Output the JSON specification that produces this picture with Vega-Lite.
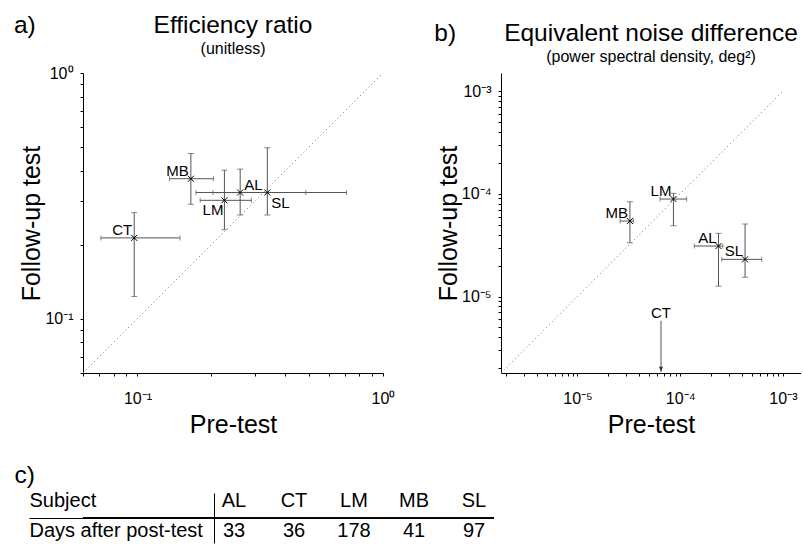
{
  "$schema": "https://vega.github.io/schema/vega-lite/v6.json",
  "autosize": {"type": "pad"},
  "padding": {"left": 13, "top": 12, "right": 0, "bottom": 0},
  "background": "white",
  "config": {
    "font": "Liberation Sans",
    "view": {"stroke": null},
    "axis": {"grid": false, "domainColor": "black", "domainWidth": 1, "tickColor": "black", "tickSize": 3, "tickWidth": 1, "labelColor": "black", "labelFontSize": 16, "labelFlush": false, "labelOverlap": false, "titleColor": "black", "titleFontSize": 25, "titleFontWeight": "normal"},
    "title": {"fontSize": 24.5, "fontWeight": "normal", "color": "black", "subtitleFontSize": 16, "subtitleColor": "black", "subtitlePadding": 3, "offset": 7}
  },
  "datasets": {
    "eff": [
      {"subject": "AL", "pre": 0.262, "pre_lo": 0.173, "pre_hi": 0.485, "post": 0.326, "post_lo": 0.264, "post_hi": 0.406},
      {"subject": "CT", "pre": 0.097, "pre_lo": 0.071, "pre_hi": 0.149, "post": 0.213, "post_lo": 0.123, "post_hi": 0.270},
      {"subject": "LM", "pre": 0.226, "pre_lo": 0.180, "pre_hi": 0.291, "post": 0.303, "post_lo": 0.230, "post_hi": 0.402},
      {"subject": "MB", "pre": 0.165, "pre_lo": 0.135, "pre_hi": 0.204, "post": 0.371, "post_lo": 0.292, "post_hi": 0.470},
      {"subject": "SL", "pre": 0.338, "pre_lo": 0.203, "pre_hi": 0.711, "post": 0.326, "post_lo": 0.264, "post_hi": 0.496}
    ],
    "end": [
      {"subject": "AL", "pre": 2.36e-4, "pre_lo": 1.37e-4, "pre_hi": 2.6e-4, "post": 3.1e-5, "post_lo": 1.26e-5, "post_hi": 4.12e-5},
      {"subject": "CT", "pre": 6.5e-5, "pre_lo": null, "pre_hi": null, "post": null, "post_lo": null, "post_hi": 5.8e-6},
      {"subject": "LM", "pre": 8.59e-5, "pre_lo": 6.36e-5, "pre_hi": 1.156e-4, "post": 8.89e-5, "post_lo": 4.89e-5, "post_hi": 1.01e-4},
      {"subject": "MB", "pre": 3.24e-5, "pre_lo": 2.6e-5, "pre_hi": 3.5e-5, "post": 5.43e-5, "post_lo": 3.34e-5, "post_hi": 8.38e-5},
      {"subject": "SL", "pre": 4.28e-4, "pre_lo": 2.54e-4, "pre_hi": 6.21e-4, "post": 2.30e-5, "post_lo": 1.54e-5, "post_hi": 5.08e-5}
    ],
    "diagA": [{"v": 0.06}, {"v": 1}],
    "diagB": [{"v": 1.8e-6}, {"v": 1e-3}],
    "days": [
      {"subject": "AL", "days": 33},
      {"subject": "CT", "days": 36},
      {"subject": "LM", "days": 178},
      {"subject": "MB", "days": 41},
      {"subject": "SL", "days": 97}
    ]
  },
  "spacing": 25,
  "vconcat": [
    {
      "spacing": 39,
      "hconcat": [
        {
          "title": {"text": "a)", "anchor": "start", "frame": "bounds", "dx": -6, "dy": 33},
          "vconcat": [
            {
              "title": {"text": "Efficiency ratio", "subtitle": "(unitless)"},
              "width": 300,
              "height": 300,
              "layer": [
                {
                  "data": {"name": "diagA"},
                  "mark": {"type": "line", "strokeDash": [1, 3], "color": "#777", "strokeWidth": 1},
                  "encoding": {
                    "x": {"field": "v", "type": "quantitative", "scale": {"type": "log", "domain": [0.06, 1], "nice": false},
                      "axis": {"title": "Pre-test", "values": [0.06, 0.07, 0.08, 0.09, 0.1, 0.2, 0.3, 0.4, 0.5, 0.6, 0.7, 0.8, 0.9, 1], "labelExpr": "datum.value == 1 ? '10⁰' : datum.value == 0.1 ? '10⁻¹' : ''", "labelPadding": 14, "titlePadding": 6}},
                    "y": {"field": "v", "type": "quantitative", "scale": {"type": "log", "domain": [0.06, 1], "nice": false},
                      "axis": {"title": "Follow-up test", "values": [0.06, 0.07, 0.08, 0.09, 0.1, 0.2, 0.3, 0.4, 0.5, 0.6, 0.7, 0.8, 0.9, 1], "labelExpr": "datum.value == 1 ? '10⁰' : datum.value == 0.1 ? '10⁻¹' : ''", "labelPadding": 7, "titlePadding": 0}}
                  }
                },
                {
                  "data": {"name": "eff"},
                  "mark": {"type": "rule", "color": "#555", "strokeWidth": 1},
                  "encoding": {
                    "x": {"field": "pre_lo", "type": "quantitative", "scale": {"type": "log", "domain": [0.06, 1], "nice": false}},
                    "x2": {"field": "pre_hi"},
                    "y": {"field": "post", "type": "quantitative", "scale": {"type": "log", "domain": [0.06, 1], "nice": false}}
                  }
                },
                {
                  "data": {"name": "eff"},
                  "mark": {"type": "rule", "color": "#555", "strokeWidth": 1},
                  "encoding": {
                    "x": {"field": "pre", "type": "quantitative", "scale": {"type": "log", "domain": [0.06, 1], "nice": false}},
                    "y": {"field": "post_lo", "type": "quantitative", "scale": {"type": "log", "domain": [0.06, 1], "nice": false}},
                    "y2": {"field": "post_hi"}
                  }
                },
                {
                  "data": {"name": "eff"},
                  "transform": [{"fold": ["post_lo", "post_hi"], "as": ["end", "yv"]}],
                  "mark": {"type": "tick", "orient": "horizontal", "size": 6, "thickness": 1, "color": "#555"},
                  "encoding": {
                    "x": {"field": "pre", "type": "quantitative", "scale": {"type": "log", "domain": [0.06, 1], "nice": false}},
                    "y": {"field": "yv", "type": "quantitative", "scale": {"type": "log", "domain": [0.06, 1], "nice": false}}
                  }
                },
                {
                  "data": {"name": "eff"},
                  "transform": [{"fold": ["pre_lo", "pre_hi"], "as": ["end", "xv"]}],
                  "mark": {"type": "tick", "orient": "vertical", "size": 5, "thickness": 1, "color": "#555"},
                  "encoding": {
                    "x": {"field": "xv", "type": "quantitative", "scale": {"type": "log", "domain": [0.06, 1], "nice": false}},
                    "y": {"field": "post", "type": "quantitative", "scale": {"type": "log", "domain": [0.06, 1], "nice": false}}
                  }
                },
                {
                  "data": {"name": "eff"},
                  "mark": {"type": "point", "shape": "M-1,-1L1,1M-1,1L1,-1", "size": 36, "filled": false, "stroke": "black", "strokeWidth": 1, "opacity": 1},
                  "encoding": {
                    "x": {"field": "pre", "type": "quantitative", "scale": {"type": "log", "domain": [0.06, 1], "nice": false}},
                    "y": {"field": "post", "type": "quantitative", "scale": {"type": "log", "domain": [0.06, 1], "nice": false}}
                  }
                },
                {
                  "data": {"name": "eff"},
                  "transform": [{"filter": {"field": "subject", "oneOf": ["CT", "MB"]}}],
                  "mark": {"type": "text", "align": "right", "baseline": "alphabetic", "dx": -2, "dy": -3, "fontSize": 15, "color": "black"},
                  "encoding": {
                    "x": {"field": "pre", "type": "quantitative", "scale": {"type": "log", "domain": [0.06, 1], "nice": false}},
                    "y": {"field": "post", "type": "quantitative", "scale": {"type": "log", "domain": [0.06, 1], "nice": false}},
                    "text": {"field": "subject"}
                  }
                },
                {
                  "data": {"name": "eff"},
                  "transform": [{"filter": {"field": "subject", "equal": "LM"}}],
                  "mark": {"type": "text", "align": "right", "baseline": "top", "dx": -1, "dy": 3, "fontSize": 15, "color": "black"},
                  "encoding": {
                    "x": {"field": "pre", "type": "quantitative", "scale": {"type": "log", "domain": [0.06, 1], "nice": false}},
                    "y": {"field": "post", "type": "quantitative", "scale": {"type": "log", "domain": [0.06, 1], "nice": false}},
                    "text": {"field": "subject"}
                  }
                },
                {
                  "data": {"name": "eff"},
                  "transform": [{"filter": {"field": "subject", "equal": "AL"}}],
                  "mark": {"type": "text", "align": "left", "baseline": "alphabetic", "dx": 4, "dy": -3, "fontSize": 15, "color": "black"},
                  "encoding": {
                    "x": {"field": "pre", "type": "quantitative", "scale": {"type": "log", "domain": [0.06, 1], "nice": false}},
                    "y": {"field": "post", "type": "quantitative", "scale": {"type": "log", "domain": [0.06, 1], "nice": false}},
                    "text": {"field": "subject"}
                  }
                },
                {
                  "data": {"name": "eff"},
                  "transform": [{"filter": {"field": "subject", "equal": "SL"}}],
                  "mark": {"type": "text", "align": "left", "baseline": "top", "dx": 4, "dy": 3.5, "fontSize": 15, "color": "black"},
                  "encoding": {
                    "x": {"field": "pre", "type": "quantitative", "scale": {"type": "log", "domain": [0.06, 1], "nice": false}},
                    "y": {"field": "post", "type": "quantitative", "scale": {"type": "log", "domain": [0.06, 1], "nice": false}},
                    "text": {"field": "subject"}
                  }
                }
              ]
            }
          ]
        },
        {
          "title": {"text": "b)", "anchor": "start", "frame": "bounds", "dx": -2, "dy": 33},
          "vconcat": [
            {
              "title": {"text": "Equivalent noise difference", "subtitle": "(power spectral density, deg²)"},
              "width": 300,
              "height": 300,
              "layer": [
                {
                  "data": {"name": "diagB"},
                  "mark": {"type": "line", "strokeDash": [1, 3], "color": "#777", "strokeWidth": 1},
                  "encoding": {
                    "x": {"field": "v", "type": "quantitative", "scale": {"type": "log", "domain": [1.8e-6, 1.5e-3], "nice": false},
                      "axis": {"title": "Pre-test", "values": [2e-6, 3e-6, 4e-6, 5e-6, 6e-6, 7e-6, 8e-6, 9e-6, 1e-5, 2e-5, 3e-5, 4e-5, 5e-5, 6e-5, 7e-5, 8e-5, 9e-5, 1e-4, 2e-4, 3e-4, 4e-4, 5e-4, 6e-4, 7e-4, 8e-4, 9e-4, 1e-3], "labelExpr": "datum.value == 1e-5 ? '10⁻⁵' : datum.value == 1e-4 ? '10⁻⁴' : datum.value == 1e-3 ? '10⁻³' : ''", "labelPadding": 14, "titlePadding": 6}},
                    "y": {"field": "v", "type": "quantitative", "scale": {"type": "log", "domain": [1.8e-6, 1.5e-3], "nice": false},
                      "axis": {"title": "Follow-up test", "values": [2e-6, 3e-6, 4e-6, 5e-6, 6e-6, 7e-6, 8e-6, 9e-6, 1e-5, 2e-5, 3e-5, 4e-5, 5e-5, 6e-5, 7e-5, 8e-5, 9e-5, 1e-4, 2e-4, 3e-4, 4e-4, 5e-4, 6e-4, 7e-4, 8e-4, 9e-4, 1e-3], "labelExpr": "datum.value == 1e-5 ? '10⁻⁵' : datum.value == 1e-4 ? '10⁻⁴' : datum.value == 1e-3 ? '10⁻³' : ''", "labelPadding": 7, "titlePadding": 0}}
                  }
                },
                {
                  "data": {"name": "end"},
                  "transform": [{"filter": "isValid(datum.pre_lo)"}],
                  "mark": {"type": "rule", "color": "#555", "strokeWidth": 1},
                  "encoding": {
                    "x": {"field": "pre_lo", "type": "quantitative", "scale": {"type": "log", "domain": [1.8e-6, 1.5e-3], "nice": false}},
                    "x2": {"field": "pre_hi"},
                    "y": {"field": "post", "type": "quantitative", "scale": {"type": "log", "domain": [1.8e-6, 1.5e-3], "nice": false}}
                  }
                },
                {
                  "data": {"name": "end"},
                  "transform": [{"filter": "isValid(datum.post_lo)"}],
                  "mark": {"type": "rule", "color": "#555", "strokeWidth": 1},
                  "encoding": {
                    "x": {"field": "pre", "type": "quantitative", "scale": {"type": "log", "domain": [1.8e-6, 1.5e-3], "nice": false}},
                    "y": {"field": "post_lo", "type": "quantitative", "scale": {"type": "log", "domain": [1.8e-6, 1.5e-3], "nice": false}},
                    "y2": {"field": "post_hi"}
                  }
                },
                {
                  "data": {"name": "end"},
                  "transform": [{"filter": "isValid(datum.post_lo)"}, {"fold": ["post_lo", "post_hi"], "as": ["end", "yv"]}],
                  "mark": {"type": "tick", "orient": "horizontal", "size": 6, "thickness": 1, "color": "#555"},
                  "encoding": {
                    "x": {"field": "pre", "type": "quantitative", "scale": {"type": "log", "domain": [1.8e-6, 1.5e-3], "nice": false}},
                    "y": {"field": "yv", "type": "quantitative", "scale": {"type": "log", "domain": [1.8e-6, 1.5e-3], "nice": false}}
                  }
                },
                {
                  "data": {"name": "end"},
                  "transform": [{"filter": "isValid(datum.pre_lo)"}, {"fold": ["pre_lo", "pre_hi"], "as": ["end", "xv"]}],
                  "mark": {"type": "tick", "orient": "vertical", "size": 5, "thickness": 1, "color": "#555"},
                  "encoding": {
                    "x": {"field": "xv", "type": "quantitative", "scale": {"type": "log", "domain": [1.8e-6, 1.5e-3], "nice": false}},
                    "y": {"field": "post", "type": "quantitative", "scale": {"type": "log", "domain": [1.8e-6, 1.5e-3], "nice": false}}
                  }
                },
                {
                  "data": {"name": "end"},
                  "transform": [{"filter": "!isValid(datum.post)"}],
                  "mark": {"type": "rule", "color": "#555", "strokeWidth": 1},
                  "encoding": {
                    "x": {"field": "pre", "type": "quantitative", "scale": {"type": "log", "domain": [1.8e-6, 1.5e-3], "nice": false}},
                    "y": {"field": "post_hi", "type": "quantitative", "scale": {"type": "log", "domain": [1.8e-6, 1.5e-3], "nice": false}},
                    "y2": {"datum": 1.85e-6}
                  }
                },
                {
                  "data": {"name": "end"},
                  "transform": [{"filter": "!isValid(datum.post)"}],
                  "mark": {"type": "point", "shape": "M-1,-2.5L1,-2.5L0,0Z", "size": 16, "filled": true, "color": "#333", "opacity": 1},
                  "encoding": {
                    "x": {"field": "pre", "type": "quantitative", "scale": {"type": "log", "domain": [1.8e-6, 1.5e-3], "nice": false}},
                    "y": {"datum": 1.85e-6, "type": "quantitative", "scale": {"type": "log", "domain": [1.8e-6, 1.5e-3], "nice": false}}
                  }
                },
                {
                  "data": {"name": "end"},
                  "transform": [{"filter": "isValid(datum.post)"}],
                  "mark": {"type": "point", "shape": "M-1,-1L1,1M-1,1L1,-1", "size": 36, "filled": false, "stroke": "black", "strokeWidth": 1, "opacity": 1},
                  "encoding": {
                    "x": {"field": "pre", "type": "quantitative", "scale": {"type": "log", "domain": [1.8e-6, 1.5e-3], "nice": false}},
                    "y": {"field": "post", "type": "quantitative", "scale": {"type": "log", "domain": [1.8e-6, 1.5e-3], "nice": false}}
                  }
                },
                {
                  "data": {"name": "end"},
                  "transform": [{"filter": "isValid(datum.post)"}],
                  "mark": {"type": "text", "align": "right", "baseline": "alphabetic", "dx": -2, "dy": -3, "fontSize": 15, "color": "black"},
                  "encoding": {
                    "x": {"field": "pre", "type": "quantitative", "scale": {"type": "log", "domain": [1.8e-6, 1.5e-3], "nice": false}},
                    "y": {"field": "post", "type": "quantitative", "scale": {"type": "log", "domain": [1.8e-6, 1.5e-3], "nice": false}},
                    "text": {"field": "subject"}
                  }
                },
                {
                  "data": {"name": "end"},
                  "transform": [{"filter": "!isValid(datum.post)"}],
                  "mark": {"type": "text", "align": "center", "baseline": "alphabetic", "dy": -3, "fontSize": 15, "color": "black"},
                  "encoding": {
                    "x": {"field": "pre", "type": "quantitative", "scale": {"type": "log", "domain": [1.8e-6, 1.5e-3], "nice": false}},
                    "y": {"field": "post_hi", "type": "quantitative", "scale": {"type": "log", "domain": [1.8e-6, 1.5e-3], "nice": false}},
                    "text": {"field": "subject"}
                  }
                }
              ]
            }
          ]
        }
      ]
    },
    {
      "title": {"text": "c)", "anchor": "start", "frame": "bounds", "dx": -14, "offset": 2},
      "width": 411,
      "height": 50,
      "data": {"name": "days"},
      "layer": [
        {
          "mark": {"type": "rule", "color": "black", "strokeWidth": 1},
          "encoding": {
            "y": {"datum": "Subject", "type": "nominal", "bandPosition": 1, "scale": {"type": "band", "domain": ["Subject", "Days after post-test"], "paddingInner": 0, "paddingOuter": 0}}
          }
        },
        {
          "mark": {"type": "text", "align": "center", "baseline": "middle", "dy": -5, "fontSize": 20, "color": "black"},
          "encoding": {
            "x": {"field": "subject", "type": "nominal", "scale": {"type": "point", "domain": ["AL", "CT", "LM", "MB", "SL"], "range": [151, 391], "padding": 0}, "axis": null},
            "y": {"datum": "Subject", "type": "nominal", "scale": {"type": "band", "domain": ["Subject", "Days after post-test"], "paddingInner": 0, "paddingOuter": 0},
              "axis": {"title": null, "offset": -131, "domain": true, "domainColor": "black", "domainWidth": 1, "ticks": true, "tickSize": 185, "tickWidth": 1, "bandPosition": 1,
                "tickColor": {"condition": {"test": "datum.value === 'Subject'", "value": "black"}, "value": "transparent"},
                "grid": false,
                "labelAlign": "left", "labelPadding": 0, "labelFontSize": 20, "labelColor": "black", "labelBaseline": "middle",
                "labelOffset": {"condition": {"test": "datum.value === 'Subject'", "value": -5}, "value": 0}}},
            "text": {"field": "subject"}
          }
        },
        {
          "mark": {"type": "text", "align": "center", "baseline": "middle", "dy": 0, "fontSize": 20, "color": "black"},
          "encoding": {
            "x": {"field": "subject", "type": "nominal", "scale": {"type": "point", "domain": ["AL", "CT", "LM", "MB", "SL"], "range": [151, 391], "padding": 0}, "axis": null},
            "y": {"datum": "Days after post-test", "type": "nominal"},
            "text": {"field": "days"}
          }
        }
      ]
    }
  ]
}
